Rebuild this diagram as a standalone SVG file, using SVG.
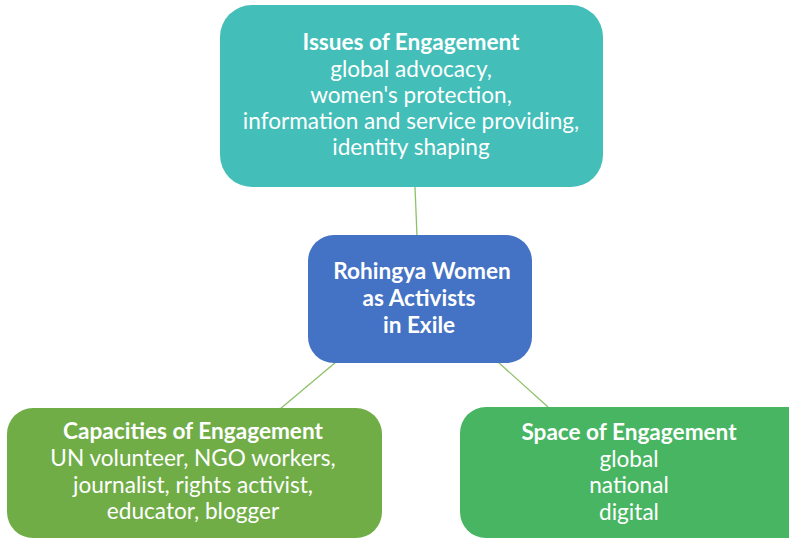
<svg xmlns="http://www.w3.org/2000/svg" width="789" height="540" viewBox="0 0 789 540">
<style>
text{font-family:Lato,"Open Sans","Liberation Sans",sans-serif;font-size:22.6px;fill:#ffffff;text-anchor:middle}
.b{font-weight:bold}
.c{stroke:#8CC168;stroke-width:1.3;fill:none}
</style>
<rect width="789" height="540" fill="#ffffff"/>
<g id="connectors">
<line class="c" x1="415" y1="187" x2="417" y2="236"/>
<line class="c" x1="336" y1="362" x2="280" y2="409"/>
<line class="c" x1="498" y1="362" x2="548" y2="407"/>
</g>
<g id="issues">
<rect x="220" y="5" width="383" height="182" rx="32" fill="#43BEB8"/>
<text x="411" y="50" class="b">Issues of Engagement</text>
<text x="411" y="77">global advocacy,</text>
<text x="411" y="103">women's protection,</text>
<text x="411" y="129">information and service providing,</text>
<text x="411" y="155">identity shaping</text>
</g>
<g id="center">
<rect x="308" y="235" width="224" height="128" rx="26" fill="#4472C4"/>
<text x="422" y="279" class="b">Rohingya Women</text>
<text x="419" y="306" class="b">as Activists</text>
<text x="419" y="333" class="b">in Exile</text>
</g>
<g id="capacities">
<rect x="7" y="408" width="375" height="130" rx="26" fill="#70AD47"/>
<text x="193" y="439" class="b">Capacities of Engagement</text>
<text x="193" y="466">UN volunteer, NGO workers,</text>
<text x="193" y="493">journalist, rights activist,</text>
<text x="193" y="519">educator, blogger</text>
</g>
<g id="space">
<rect x="460" y="407" width="360" height="131" rx="26" fill="#48B562"/>
<text x="629" y="440" class="b">Space of Engagement</text>
<text x="629" y="467">global</text>
<text x="629" y="493">national</text>
<text x="629" y="520">digital</text>
</g>
</svg>
